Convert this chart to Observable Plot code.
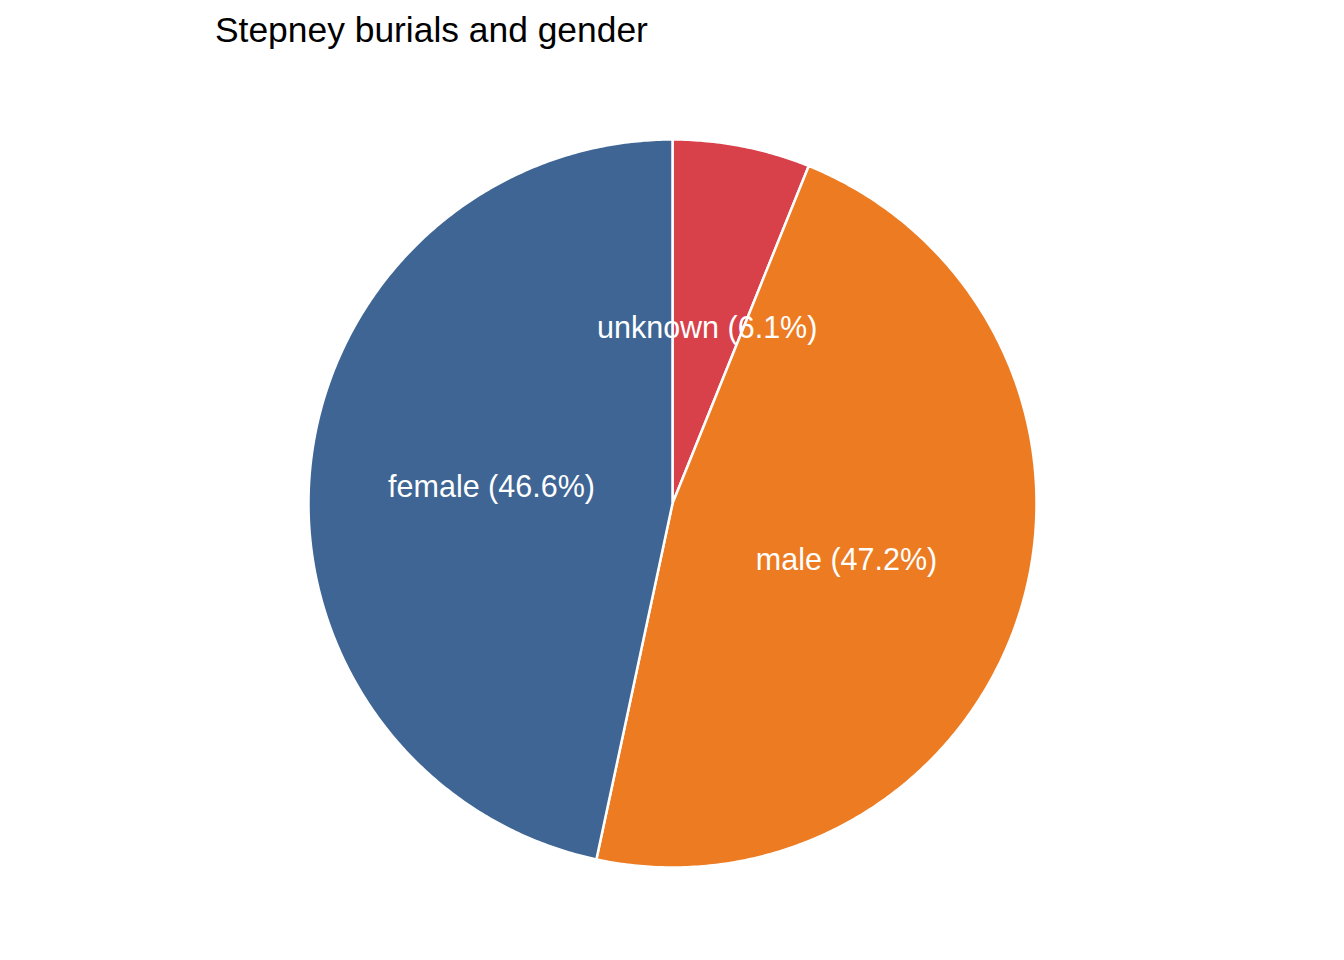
<!DOCTYPE html>
<html>
<head>
<meta charset="utf-8">
<script src="https://cdn.jsdelivr.net/npm/d3@7"></script>
<script src="https://cdn.jsdelivr.net/npm/@observablehq/plot@0.6"></script>
<style>
  html, body { margin: 0; padding: 0; background: #fff; }
  #title { height: 60px; line-height: 61px; font-size: 35.4px; padding-left: 215px;
           font-family: "Liberation Sans", Arial, Helvetica, sans-serif; color: #000; white-space: nowrap; }
</style>
</head>
<body>
<div id="title">Stepney burials and gender</div>
<div id="chart"></div>
<script>
// Data (clockwise from 12 o'clock)
const categories = ["unknown", "male", "female"];
const percents = [6.1, 47.2, 46.6];
const colors = ["#D8404A", "#EC7B22", "#3E6594"];

const total = d3.sum(percents);
let acc = 0;
const slices = categories.map((c, i) => {
  const a0 = acc / total * 2 * Math.PI;
  acc += percents[i];
  const a1 = acc / total * 2 * Math.PI;
  return {category: c, value: percents[i], a0, a1};
});

// polygon features (unit circle, angle clockwise from top)
const pt = (a, r) => [r * Math.sin(a), r * Math.cos(a)];
const features = slices.map(s => {
  const n = Math.max(8, Math.ceil((s.a1 - s.a0) / (Math.PI / 360)));
  const ring = [[0, 0]];
  for (let k = 0; k <= n; k++) ring.push(pt(s.a0 + (s.a1 - s.a0) * k / n, 1));
  ring.push([0, 0]);
  return {type: "Feature", properties: s, geometry: {type: "Polygon", coordinates: [ring]}};
});
const labels = slices.map(s => {
  const m = (s.a0 + s.a1) / 2;
  const [x, y] = pt(m, 0.5);
  return {x, y, text: `${s.category} (${s.value.toFixed(1)}%)`};
});

const chart = Plot.plot({
  width: 1344,
  height: 900,
  marginLeft: 308,
  marginRight: 308,
  marginTop: 79,
  marginBottom: 93,
  projection: {type: "reflect-y", domain: {type: "MultiPoint", coordinates: [[-1, -1], [1, 1]]}},
  color: {domain: categories, range: colors},
  style: {fontFamily: "'Liberation Sans', Arial, Helvetica, sans-serif", background: "#fff"},
  marks: [
    Plot.geo(features, {fill: d => d.properties.category, stroke: "white", strokeWidth: 2.5}),
    Plot.text(labels, {x: "x", y: "y", text: "text", fill: "white", fontSize: 30.5, dy: 3})
  ]
});
document.getElementById("chart").append(chart);
</script>
</body>
</html>
